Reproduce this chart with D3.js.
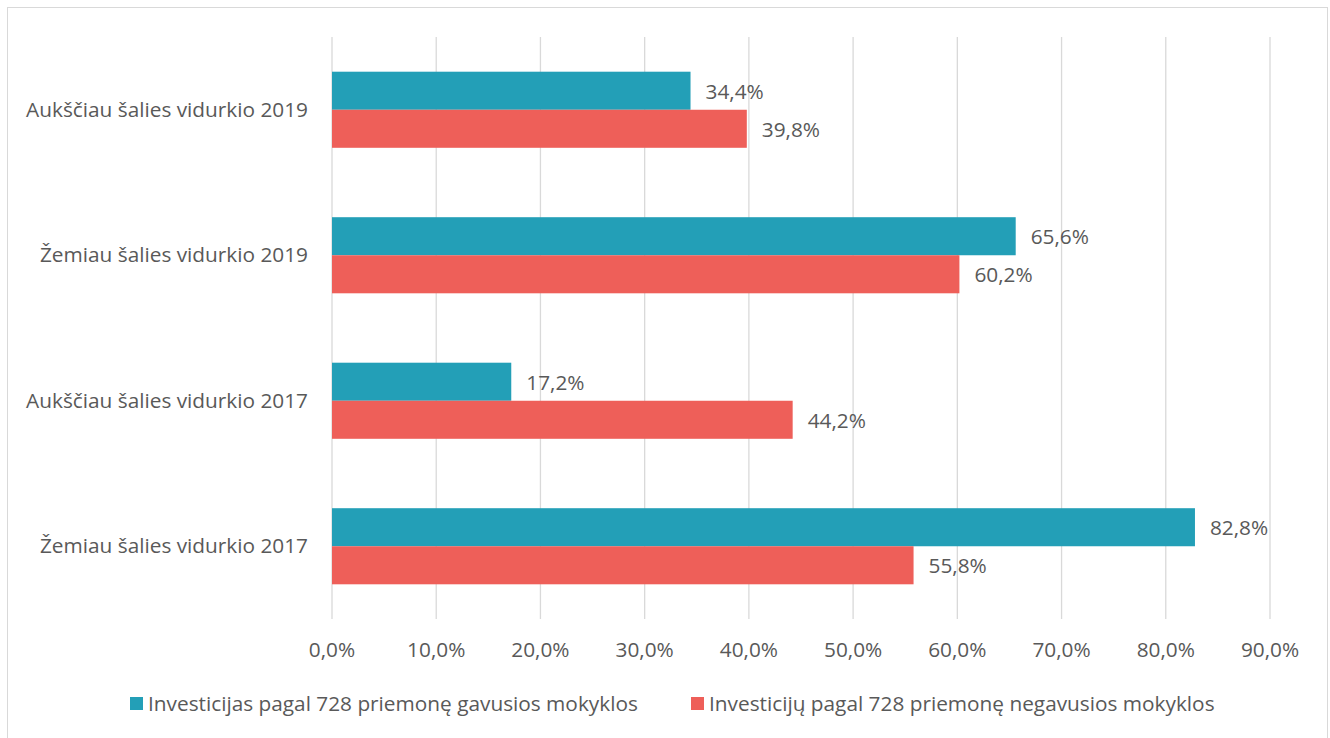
<!DOCTYPE html>
<html>
<head>
<meta charset="utf-8">
<script src="https://cdn.jsdelivr.net/npm/d3@7"></script>
<style>
body { margin: 0; background: #fff; }
text { font-family: "Open Sans", sans-serif; fill: #595959; }
</style>
</head>
<body>
<script>
//chart data
var categories = ["Aukščiau šalies vidurkio 2019", "Žemiau šalies vidurkio 2019", "Aukščiau šalies vidurkio 2017", "Žemiau šalies vidurkio 2017"];
var seriesNames = ["Investicijas pagal 728 priemonę gavusios mokyklos", "Investicijų pagal 728 priemonę negavusios mokyklos"];
var gavusios = [34.4, 65.6, 17.2, 82.8];
var negavusios = [39.8, 60.2, 44.2, 55.8];
var tickValues = [0, 10, 20, 30, 40, 50, 60, 70, 80, 90];
var colors = ["#239fb7", "#ee5f59"];

var width = 1330, height = 738;
var fontSize = "20.8px";
var svg = d3.select("body").append("svg")
    .attr("width", width)
    .attr("height", height);

//outer frame
svg.append("rect")
    .attr("x", 7.5).attr("y", 7.5)
    .attr("width", 1320).attr("height", 740)
    .attr("fill", "none")
    .attr("stroke", "#d9d9d9");

var x = d3.scaleLinear().domain([0, 90]).range([332, 1270]);
var y = d3.scaleBand().domain(categories).range([37, 619]).paddingInner(0.477).paddingOuter(0.2385);
var ySub = d3.scaleBand().domain([0, 1]).range([0, y.bandwidth()]);

var fmt = function(v){ return d3.format(".1f")(v).replace(".", ",") + "%"; };

//gridlines
svg.append("g").selectAll("line")
    .data(tickValues)
    .enter().append("line")
    .attr("x1", function(d){ return x(d); })
    .attr("x2", function(d){ return x(d); })
    .attr("y1", 37).attr("y2", 619)
    .attr("stroke", "#d9d9d9")
    .attr("stroke-width", 1.3);

//tick labels
svg.append("g").selectAll("text")
    .data(tickValues)
    .enter().append("text")
    .attr("x", function(d){ return x(d); })
    .attr("y", 657)
    .attr("text-anchor", "middle")
    .style("font-size", fontSize)
    .text(function(d){ return fmt(d); });

//category labels
svg.append("g").selectAll("text")
    .data(categories)
    .enter().append("text")
    .attr("x", 308)
    .attr("y", function(d){ return y(d) + y.bandwidth() / 2 + 7; })
    .attr("text-anchor", "end")
    .style("font-size", fontSize)
    .text(function(d){ return d; });

var series = [gavusios, negavusios];
series.forEach(function(vals, s){
    var g = svg.append("g");
    g.selectAll("rect")
        .data(vals)
        .enter().append("rect")
        .attr("x", x(0))
        .attr("y", function(d, i){ return y(categories[i]) + ySub(s); })
        .attr("width", function(d){ return x(d) - x(0); })
        .attr("height", ySub.bandwidth())
        .attr("fill", colors[s]);
    g.selectAll("text")
        .data(vals)
        .enter().append("text")
        .attr("x", function(d){ return x(d) + 15; })
        .attr("y", function(d, i){ return y(categories[i]) + ySub(s) + ySub.bandwidth() / 2 + 8; })
        .style("font-size", fontSize)
        .text(function(d){ return fmt(d); });
});

//legend
var legendX = [130, 691];
seriesNames.forEach(function(name, s){
    svg.append("rect")
        .attr("x", legendX[s]).attr("y", 697)
        .attr("width", 13).attr("height", 13)
        .attr("fill", colors[s]);
    svg.append("text")
        .attr("x", legendX[s] + 18).attr("y", 711)
        .style("font-size", fontSize)
        .text(name);
});
</script>
</body>
</html>
